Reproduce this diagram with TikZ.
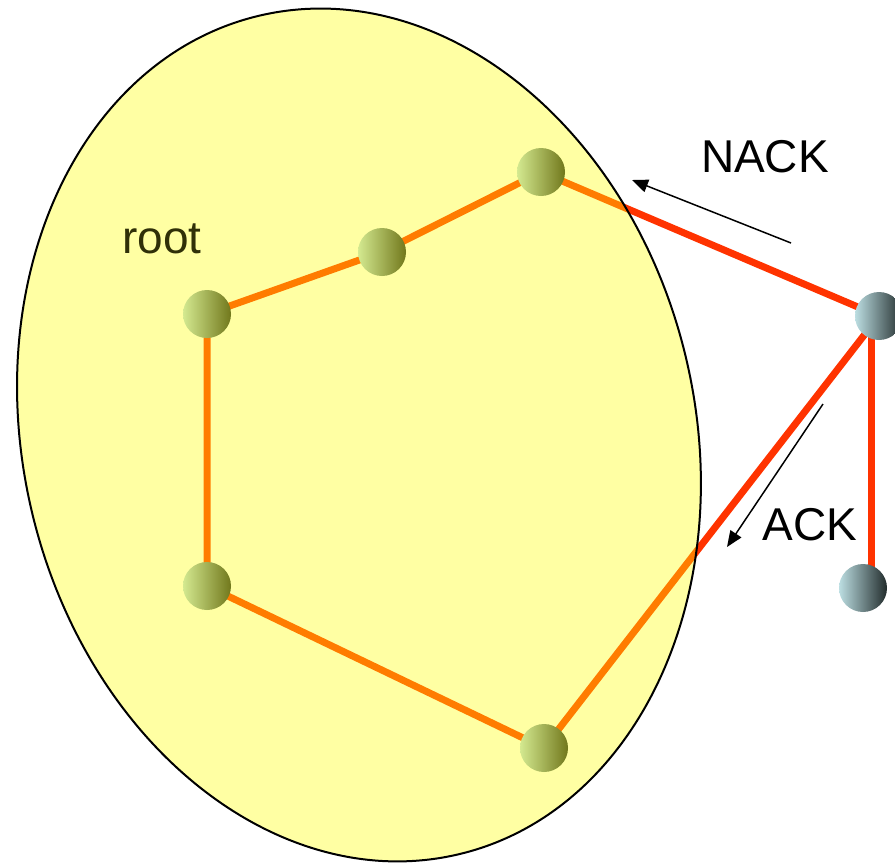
\documentclass[tikz,border=0pt]{standalone}
\usepackage{fontspec}
\setmainfont{Liberation Sans}
\usetikzlibrary{arrows.meta}

\definecolor{linkred}{RGB}{255,51,0}
\definecolor{nodelight}{RGB}{188,222,226}
\definecolor{nodemid}{RGB}{140,170,174}
\definecolor{nodedark}{RGB}{34,44,44}
\definecolor{zonefill}{RGB}{255,255,0}
\definecolor{roottext}{RGB}{48,48,8}

\tikzset{
  host/.style={circle, minimum size=48pt, inner sep=0pt, shading=axis,
    left color=nodelight, middle color=nodemid, right color=nodedark},
  link/.style={draw=linkred, line width=7pt},
  msg/.style={draw=black, line width=1.5pt, -{Triangle[length=16pt,width=13pt]}},
  lbl/.style={font=\fontsize{46}{50}\selectfont, anchor=base, inner sep=0pt},
}

\begin{document}
\begin{tikzpicture}[x=1pt, y=-1pt]
  \useasboundingbox (0,0) rectangle (895,863);
  \clip (0,0) rectangle (895,863);

  % hosts
  \coordinate (p1) at (207,314);
  \coordinate (p2) at (382,252);
  \coordinate (p3) at (541,172);
  \coordinate (p4) at (207,586);
  \coordinate (p5) at (544,748);
  \coordinate (q1) at (879,316);
  \coordinate (q2) at (863,588);

  % links of the tree
  \draw[link] (p1) -- (p2) -- (p3) -- (q1);
  \draw[link] (p1) -- (p4) -- (p5) -- (q1);

  \node[host] (n1) at (p1) {};
  \node[host] (n2) at (p2) {};
  \node[host] (n3) at (p3) {};
  \node[host] (n4) at (p4) {};
  \node[host] (n5) at (p5) {};

  % the vertical drop to the leaf
  \draw[link] ([xshift=-8pt]q1) -- ([xshift=8pt]q2);
  \node[host] (r1) at (q1) {};
  \node[host] (r2) at (q2) {};

  % the group region, laid over its members
  \coordinate (zc) at (359,435);
  \fill[zonefill, fill opacity=0.36, rotate around={13.5:(zc)}]
    (zc) ellipse [x radius=336, y radius=431];
  \draw[black, line width=2pt, rotate around={13.5:(zc)}]
    (zc) ellipse [x radius=336, y radius=431];

  \node[lbl, text=roottext] (rootlbl) at (162,253) {root};

  % acknowledgement messages
  \node[lbl] (nack) at (765,172) {NACK};
  \node[lbl] (ack) at (810,540) {ACK};
  \coordinate (nackfrom) at (791,243);
  \coordinate (nackto) at (632,180);
  \coordinate (ackfrom) at (823,404);
  \coordinate (ackto) at (727,547);
  \draw[msg] (nackfrom) -- (nackto);
  \draw[msg] (ackfrom) -- (ackto);
\end{tikzpicture}
\end{document}
